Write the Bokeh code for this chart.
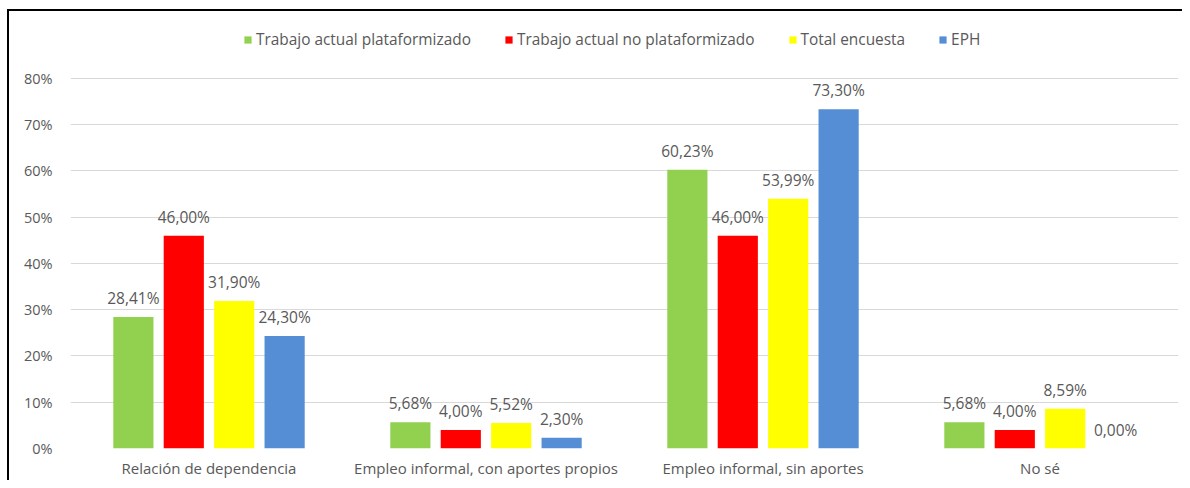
from bokeh.plotting import figure
from bokeh.models import ColumnDataSource, Legend, LegendItem, FixedTicker, CustomJSTickFormatter, InlineStyleSheet
from bokeh.transform import dodge
from bokeh.core.properties import value
from bokeh.embed import file_html
from bokeh.resources import INLINE

categories = ["Relación de dependencia", "Empleo informal, con aportes propios",
              "Empleo informal, sin aportes", "No sé"]
series_names = ["Trabajo actual plataformizado", "Trabajo actual no plataformizado",
                "Total encuesta", "EPH"]
plataformizado = [28.41, 5.68, 60.23, 5.68]
no_plataformizado = [46.00, 4.00, 46.00, 4.00]
total_encuesta = [31.90, 5.52, 53.99, 8.59]
eph = [24.30, 2.30, 73.30, 0.00]
y_ticks = [0, 10, 20, 30, 40, 50, 60, 70, 80]

colors = ["#92D050", "#FF0000", "#FFFF00", "#558ED5"]
series = [plataformizado, no_plataformizado, total_encuesta, eph]
offsets = [-0.273, -0.091, 0.091, 0.273]
bar_w = 0.145

FONT = "Open Sans"
GRAY = "#595959"

p = figure(x_range=categories, y_range=(0, 91.2), width=1182, height=480,
           output_backend="svg", toolbar_location=None,
           min_border_left=70, min_border_right=4, min_border_top=26, min_border_bottom=31)
p.stylesheets = [InlineStyleSheet(css=(
    ":host { position: relative; }"
    ":host::after { content: ''; position: absolute; left: 7px; top: 9px; right: 0; bottom: 0;"
    " border-top: 2px solid #000; border-left: 2px solid #000; pointer-events: none; z-index: 10; }"))]

items = []
for name, vals, col, off in zip(series_names, series, colors, offsets):
    src = ColumnDataSource(dict(cat=categories, val=vals,
                                lbl=[("%.2f" % v).replace(".", ",") + "%" for v in vals]))
    r = p.vbar(x=dodge("cat", off, range=p.x_range), top="val", width=bar_w, source=src,
               fill_color=col, line_color=None)
    p.text(x=dodge("cat", off, range=p.x_range), y="val", text="lbl", source=src,
           text_align="center", text_baseline="bottom", y_offset=-8,
           text_font=value(FONT), text_font_size="15.5px", text_color=GRAY)
    items.append(LegendItem(label=name, renderers=[r]))

legend = Legend(items=items, orientation="horizontal", location=(173, 398),
                label_text_font=FONT, label_text_font_size="15.4px", label_text_color=GRAY,
                glyph_width=9, glyph_height=9, label_standoff=4, spacing=33,
                border_line_color=None, background_fill_alpha=0, padding=0, margin=0)
p.add_layout(legend, "center")

p.yaxis.ticker = FixedTicker(ticks=y_ticks)
p.yaxis.formatter = CustomJSTickFormatter(code="return tick.toFixed(0) + '%';")
p.ygrid.ticker = FixedTicker(ticks=y_ticks)
p.ygrid.grid_line_color = "#D9D9D9"
p.ygrid.grid_line_width = 1
p.xgrid.grid_line_color = None
p.outline_line_color = None

for ax in (p.xaxis, p.yaxis):
    ax.axis_line_color = None
    ax.major_tick_line_color = None
    ax.minor_tick_line_color = None
    ax.major_tick_out = 0
    ax.major_tick_in = 0
    ax.minor_tick_out = 0
    ax.minor_tick_in = 0
    ax.major_label_text_font = FONT
    ax.major_label_text_color = GRAY
p.xaxis.major_label_text_font_size = "15px"
p.yaxis.major_label_text_font_size = "14.5px"
p.yaxis.major_label_standoff = 18
p.xaxis.major_label_standoff = 9
p.x_range.range_padding = 0
p.background_fill_color = "white"
p.border_fill_color = "white"

open("out.html", "w").write(file_html(p, INLINE))
